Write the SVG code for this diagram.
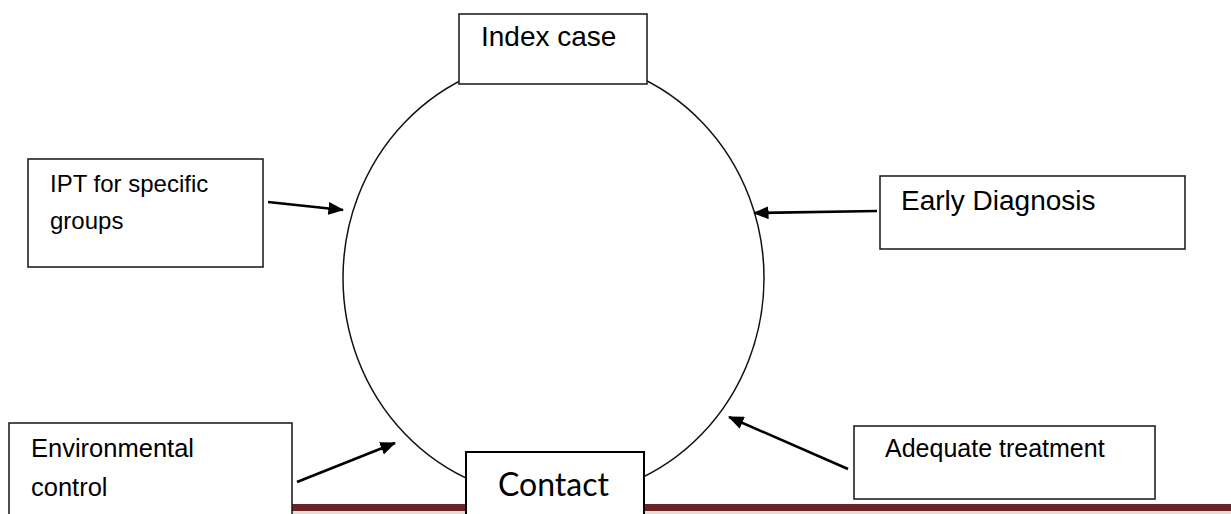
<svg xmlns="http://www.w3.org/2000/svg" width="1231" height="514" viewBox="0 0 1231 514">
<defs>
<style>
.box{fill:#fff;stroke:#222;stroke-width:1.6}
.lbl{font-family:"Liberation Sans",Arial,sans-serif;fill:#000}
.conn{stroke:#000;stroke-width:2.6;fill:none}
</style>
<marker id="ah" markerWidth="6" markerHeight="5" refX="5.6" refY="2.5" orient="auto" markerUnits="strokeWidth">
<path d="M0,0 L6,2.5 L0,5 Z" fill="#000"/>
</marker>
</defs>
<rect x="0" y="0" width="1231" height="514" fill="#fff"/>
<rect x="292" y="504" width="939" height="7" fill="#6a2222"/>
<rect x="292" y="511" width="939" height="3" fill="#e6ddd6"/>
<g id="cycle">
<ellipse cx="553.5" cy="278" rx="210.5" ry="220" fill="none" stroke="#111" stroke-width="1.5"/>
</g>
<g id="connectors">
<line class="conn" x1="268" y1="202" x2="343" y2="210" marker-end="url(#ah)"/>
<line class="conn" x1="877" y1="211" x2="754" y2="213" marker-end="url(#ah)"/>
<line class="conn" x1="848" y1="469" x2="729" y2="417" marker-end="url(#ah)"/>
<line class="conn" x1="297" y1="482" x2="395" y2="443" marker-end="url(#ah)"/>
</g>
<g id="index-case">
<rect class="box" x="459" y="14" width="188" height="70"/>
<text class="lbl" x="481" y="46" font-size="28">Index case</text>
</g>
<g id="ipt">
<rect class="box" x="28" y="159" width="235" height="108"/>
<text class="lbl" x="50" y="192" font-size="24">IPT for specific</text>
<text class="lbl" x="50" y="229" font-size="24">groups</text>
</g>
<g id="early-diagnosis">
<rect class="box" x="880" y="176" width="305" height="73"/>
<text class="lbl" x="901" y="210" font-size="28">Early Diagnosis</text>
</g>
<g id="adequate-treatment">
<rect class="box" x="854" y="426" width="301" height="73"/>
<text class="lbl" x="885" y="457" font-size="25">Adequate treatment</text>
</g>
<g id="environmental-control">
<rect class="box" x="9" y="423" width="283" height="100"/>
<text class="lbl" x="31" y="457" font-size="25.5">Environmental</text>
<text class="lbl" x="31" y="496" font-size="25.5">control</text>
</g>
<g id="contact">
<rect x="466" y="452" width="178" height="70" fill="#fff" stroke="#000" stroke-width="2"/>
<text x="498" y="496" font-family="Lato,'Open Sans',sans-serif" font-size="32" fill="#000">Contact</text>
</g>
</svg>
